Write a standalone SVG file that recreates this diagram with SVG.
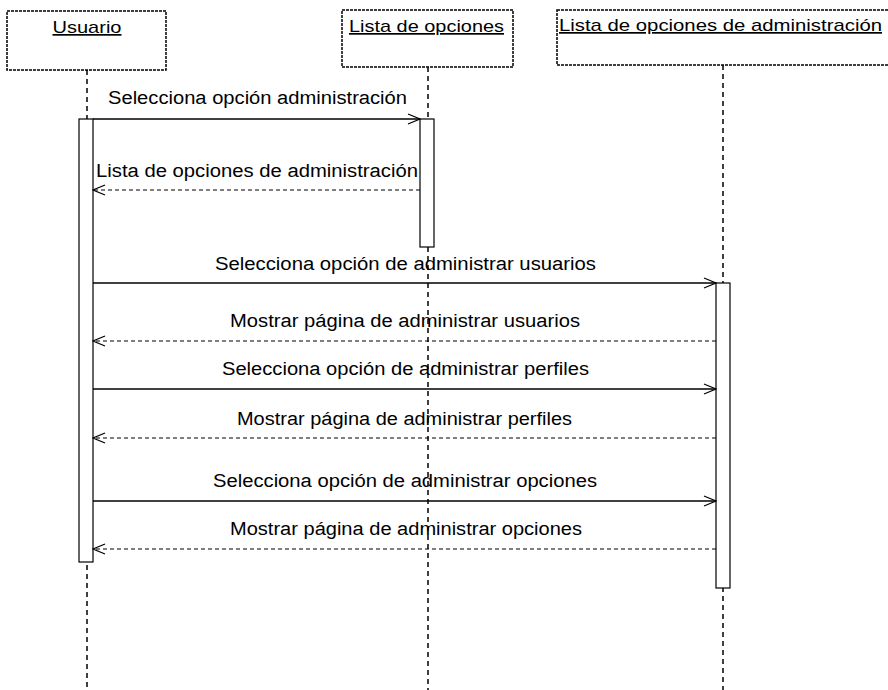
<svg xmlns="http://www.w3.org/2000/svg" width="888" height="690" viewBox="0 0 888 690">
<style>
.box{fill:#fff;stroke:#000;stroke-width:1.5;stroke-dasharray:3 1}
.title{font-family:"Liberation Sans",Arial,sans-serif;font-size:17px;fill:#000;text-decoration:underline}
.life{stroke:#000;stroke-width:1.5;stroke-dasharray:5 4;fill:none}
.act{fill:#fff;stroke:#000;stroke-width:1.2}
.msg{stroke:#000;stroke-width:1.4;fill:none}
.ret{stroke:#000;stroke-width:1.2;stroke-dasharray:4 3;fill:none}
.lbl{font-family:"Liberation Sans",Arial,sans-serif;font-size:18px;fill:#000}
</style>
<defs>
<marker id="open" markerWidth="14" markerHeight="12" refX="13" refY="6" orient="auto" markerUnits="userSpaceOnUse">
<path d="M1,1 L13,6 L1,11" fill="none" stroke="#000" stroke-width="1.3"/>
</marker>
</defs>
<rect width="888" height="690" fill="#fff"/>
<g id="lifelines">
<line class="life" x1="87" y1="70" x2="87" y2="690"/>
<line class="life" x1="428" y1="67" x2="428" y2="690"/>
<line class="life" x1="723" y1="65" x2="723" y2="690"/>
</g>
<g id="usuario">
<rect class="box" x="7" y="11" width="159" height="59"/>
<text class="title" x="87" y="33" text-anchor="middle" textLength="69" lengthAdjust="spacingAndGlyphs">Usuario</text>
<rect class="act" x="79" y="119" width="14" height="443"/>
</g>
<g id="lista-opciones">
<rect class="box" x="342" y="10" width="171" height="57"/>
<text class="title" x="349" y="32" textLength="155" lengthAdjust="spacingAndGlyphs">Lista de opciones</text>
<rect class="act" x="420" y="119" width="14" height="128"/>
</g>
<g id="lista-opciones-admin">
<rect class="box" x="557" y="10" width="340" height="55"/>
<text class="title" x="559" y="31" textLength="323" lengthAdjust="spacingAndGlyphs">Lista de opciones de administración</text>
<rect class="act" x="716" y="283" width="14" height="305"/>
</g>
<g id="connectors">
<line class="msg" x1="93" y1="119" x2="420" y2="119" marker-end="url(#open)"/>
<line class="ret" x1="420" y1="190" x2="93" y2="190" marker-end="url(#open)"/>
<line class="msg" x1="93" y1="283" x2="716" y2="283" marker-end="url(#open)"/>
<line class="ret" x1="716" y1="341" x2="93" y2="341" marker-end="url(#open)"/>
<line class="msg" x1="93" y1="389" x2="716" y2="389" marker-end="url(#open)" stroke-width="1"/>
<line class="ret" x1="716" y1="438" x2="93" y2="438" marker-end="url(#open)"/>
<line class="msg" x1="93" y1="501" x2="716" y2="501" marker-end="url(#open)"/>
<line class="ret" x1="716" y1="549" x2="93" y2="549" marker-end="url(#open)"/>
</g>
<g id="labels">
<text class="lbl" x="108" y="104" textLength="299" lengthAdjust="spacingAndGlyphs">Selecciona opción administración</text>
<text class="lbl" x="96" y="177" textLength="322" lengthAdjust="spacingAndGlyphs">Lista de opciones de administración</text>
<text class="lbl" x="215" y="270" textLength="381" lengthAdjust="spacingAndGlyphs">Selecciona opción de administrar usuarios</text>
<text class="lbl" x="230" y="327" textLength="350" lengthAdjust="spacingAndGlyphs">Mostrar página de administrar usuarios</text>
<text class="lbl" x="222" y="375" textLength="367" lengthAdjust="spacingAndGlyphs">Selecciona opción de administrar perfiles</text>
<text class="lbl" x="237" y="425" textLength="335" lengthAdjust="spacingAndGlyphs">Mostrar página de administrar perfiles</text>
<text class="lbl" x="213" y="487" textLength="384" lengthAdjust="spacingAndGlyphs">Selecciona opción de administrar opciones</text>
<text class="lbl" x="230" y="535" textLength="352" lengthAdjust="spacingAndGlyphs">Mostrar página de administrar opciones</text>
</g>
</svg>
